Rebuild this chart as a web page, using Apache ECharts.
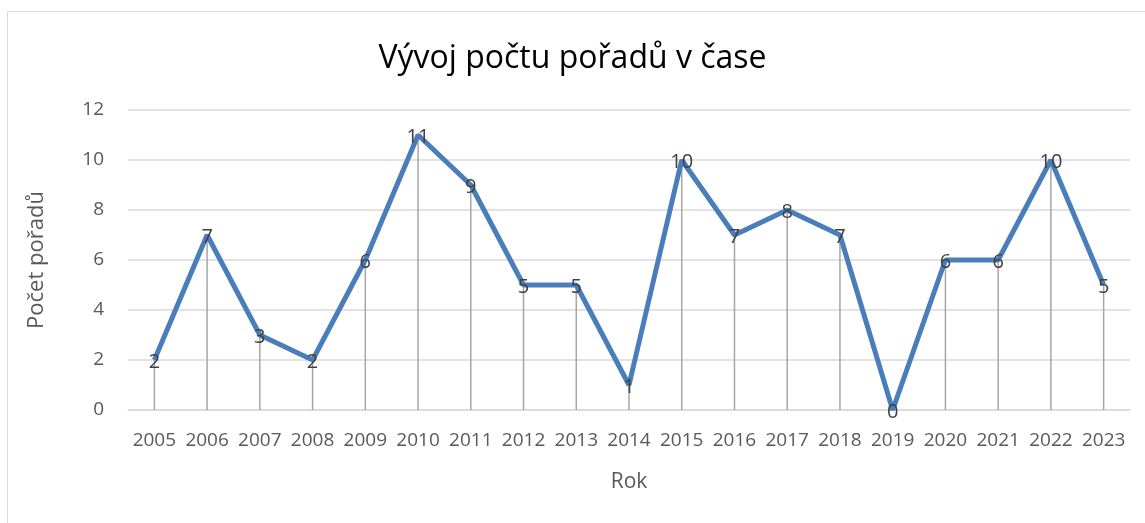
<!DOCTYPE html>
<html>
<head>
<meta charset="utf-8">
<script src="https://cdn.jsdelivr.net/npm/echarts@6/dist/echarts.min.js"></script>
<style>
  html, body { margin: 0; padding: 0; background: #fff; }
  #chart { width: 1145px; height: 523px; }
</style>
</head>
<body>
<div id="chart"></div>
<script>
  // data
  const years = ['2005', '2006', '2007', '2008', '2009', '2010', '2011', '2012', '2013', '2014',
                 '2015', '2016', '2017', '2018', '2019', '2020', '2021', '2022', '2023'];
  const counts = [2, 7, 3, 2, 6, 11, 9, 5, 5, 1, 10, 7, 8, 7, 0, 6, 6, 10, 5];
  const yTicks = [0, 2, 4, 6, 8, 10, 12];

  const font = 'Open Sans, Noto Sans, sans-serif';
  const chart = echarts.init(document.getElementById('chart'));
  chart.setOption({
    animation: false,
    graphic: [{
      type: 'rect',
      shape: { x: 7.5, y: 11.5, width: 1200, height: 600 },
      style: { fill: 'none', stroke: '#d9d9d9', lineWidth: 1 }
    }],
    title: {
      text: 'Vývoj počtu pořadů v čase',
      left: 'center',
      top: 38,
      textStyle: { fontFamily: font, fontWeight: 'normal', fontSize: 32, color: '#000' }
    },
    grid: { left: 128, right: 15, top: 110, bottom: 113 },
    xAxis: {
      type: 'category',
      data: years,
      name: 'Rok',
      nameLocation: 'middle',
      nameGap: 62,
      nameTextStyle: { fontFamily: font, fontSize: 21, color: '#595959' },
      axisLine: { lineStyle: { color: '#d9d9d9', width: 1.5 } },
      axisTick: { show: false },
      axisLabel: { fontFamily: font, fontSize: 19, color: '#595959', margin: 21, interval: 0 }
    },
    yAxis: {
      type: 'value',
      min: yTicks[0],
      max: yTicks[yTicks.length - 1],
      interval: 2,
      name: 'Počet pořadů',
      nameLocation: 'middle',
      nameGap: 80,
      nameTextStyle: { fontFamily: font, fontSize: 22, color: '#595959' },
      axisLine: { show: false },
      axisTick: { show: false },
      axisLabel: { fontFamily: font, fontSize: 19, color: '#595959', margin: 24 },
      splitLine: { lineStyle: { color: '#d9d9d9', width: 1.5 } }
    },
    series: [
      {
        // drop lines
        type: 'bar',
        data: counts,
        barWidth: 1.5,
        itemStyle: { color: '#a6a6a6' },
        silent: true,
        z: 1
      },
      {
        type: 'line',
        data: counts,
        symbol: 'circle',
        symbolSize: 1,
        showSymbol: true,
        itemStyle: { color: 'rgba(0,0,0,0)' },
        lineStyle: { color: '#4a7ebb', width: 5 },
        label: {
          show: true,
          position: 'inside',
          offset: [0, 2],
          fontFamily: font,
          fontSize: 20,
          color: '#404040'
        },
        z: 3
      }
    ]
  });
</script>
</body>
</html>
